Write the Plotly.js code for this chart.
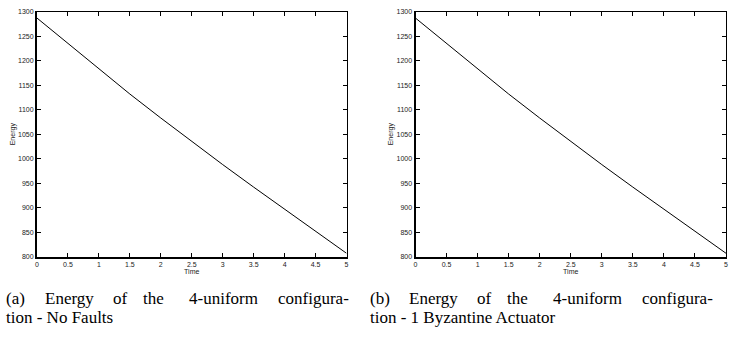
<!DOCTYPE html>
<html>
<head>
<meta charset="utf-8">
<script src="https://cdn.plot.ly/plotly-3.0.1.min.js"></script>
<style>html,body{margin:0;padding:0;background:#fff;}#chart{width:729px;height:339px;}</style>
</head>
<body>
<div id="chart"></div>
<script>
// Data
const timeA = [0, 0.5, 1, 1.5, 2, 2.5, 3, 3.5, 4, 4.5, 5];
const energyA = [1287, 1235, 1183, 1132, 1083, 1035, 988, 942, 897, 852, 807];
const timeB = [0, 0.5, 1, 1.5, 2, 2.5, 3, 3.5, 4, 4.5, 5];
const energyB = [1287, 1235, 1183, 1132, 1083, 1035, 988, 942, 897, 852, 807];
const xTicks = [0, 0.5, 1, 1.5, 2, 2.5, 3, 3.5, 4, 4.5, 5];
const xTickText = ['0', '0.5', '1', '1.5', '2', '2.5', '3', '3.5', '4', '4.5', '5'];
const yTicks = [800, 850, 900, 950, 1000, 1050, 1100, 1150, 1200, 1250, 1300];
const captionA1 = ['(a)', 'Energy', 'of', 'the', '4-uniform', 'configura-'];
const captionA2 = 'tion - No Faults';
const captionB1 = ['(b)', 'Energy', 'of', 'the', '4-uniform', 'configura-'];
const captionB2 = 'tion - 1 Byzantine Actuator';
const xTitle = 'Time';
const yTitle = 'Energy';

const W = 729, H = 339;
const tickFont = {family: 'Liberation Sans, Arial, sans-serif', size: 7, color: '#222'};
const yTop = 1 - 11.7 / H, yBot = 1 - 256.7 / H;
const domA = [37 / W, 346.5 / W], domB = [415.5 / W, 726 / W];

function mainX(dom, anchor) {
  return {domain: dom, anchor: anchor, range: [0, 5], tickvals: xTicks, ticktext: xTickText,
    ticks: 'inside', ticklen: 4, tickwidth: 1, tickcolor: '#000', showline: true, linewidth: 2, linecolor: '#000',
    mirror: false, showgrid: false, zeroline: false, tickfont: tickFont,
    title: {text: xTitle, font: tickFont, standoff: 2}};
}
function mainY(anchor) {
  return {domain: [yBot, yTop], anchor: anchor, range: [800, 1300], tickvals: yTicks,
    ticks: 'inside', ticklen: 4, tickwidth: 1, tickcolor: '#000', showline: true, linewidth: 2, linecolor: '#000',
    mirror: false, showgrid: false, zeroline: false, tickfont: tickFont,
    title: {text: yTitle, font: tickFont, standoff: 2}};
}
function mirX(dom, ov, anchor) {
  return {domain: dom, overlaying: ov, anchor: anchor, side: 'top', range: [0, 5], tickvals: xTicks,
    showticklabels: false, ticks: 'inside', ticklen: 4, tickcolor: '#000', showline: true, linewidth: 1,
    linecolor: '#000', showgrid: false, zeroline: false};
}
function mirY(ov, anchor) {
  return {domain: [yBot, yTop], overlaying: ov, anchor: anchor, side: 'right', range: [800, 1300], tickvals: yTicks,
    showticklabels: false, ticks: 'inside', ticklen: 4, tickcolor: '#000', showline: true, linewidth: 1,
    linecolor: '#000', showgrid: false, zeroline: false};
}

const data = [
  {x: timeA, y: energyA, xaxis: 'x', yaxis: 'y', mode: 'lines', line: {color: '#000', width: 1}, showlegend: false},
  {x: timeB, y: energyB, xaxis: 'x2', yaxis: 'y2', mode: 'lines', line: {color: '#000', width: 1}, showlegend: false},
  {x: [], y: [], xaxis: 'x3', yaxis: 'y3', showlegend: false},
  {x: [], y: [], xaxis: 'x4', yaxis: 'y4', showlegend: false}
];

const capFont = {family: 'Liberation Serif, Times New Roman, serif', size: 17, color: '#000'};
// centres of the justified words of the first caption line
const wordCentre = [15.9, 69, 120, 153, 223.5, 313];
const annotations = [];
function addCaption(words, line2, offset) {
  words.forEach((w, i) => annotations.push({text: w, xref: 'paper', yref: 'paper',
    x: (wordCentre[i] + offset) / W, y: 1 - 298.6 / H, xanchor: 'center', yanchor: 'middle',
    showarrow: false, font: capFont, borderpad: 0}));
  annotations.push({text: line2, xref: 'paper', yref: 'paper', x: (5 + offset) / W, y: 1 - 317.5 / H,
    xanchor: 'left', yanchor: 'middle', showarrow: false, font: capFont, borderpad: 0});
}
addCaption(captionA1, captionA2, 0);
addCaption(captionB1, captionB2, 364);

const layout = {
  width: W, height: H, margin: {l: 0, r: 0, t: 0, b: 0},
  paper_bgcolor: '#fff', plot_bgcolor: '#fff',
  xaxis: mainX(domA, 'y'), yaxis: mainY('x'),
  xaxis2: mainX(domB, 'y2'), yaxis2: mainY('x2'),
  xaxis3: mirX(domA, 'x', 'y3'), yaxis3: mirY('y', 'x3'),
  xaxis4: mirX(domB, 'x2', 'y4'), yaxis4: mirY('y2', 'x4'),
  annotations: annotations
};

Plotly.newPlot('chart', data, layout, {displayModeBar: false, staticPlot: true});
</script>
</body>
</html>
